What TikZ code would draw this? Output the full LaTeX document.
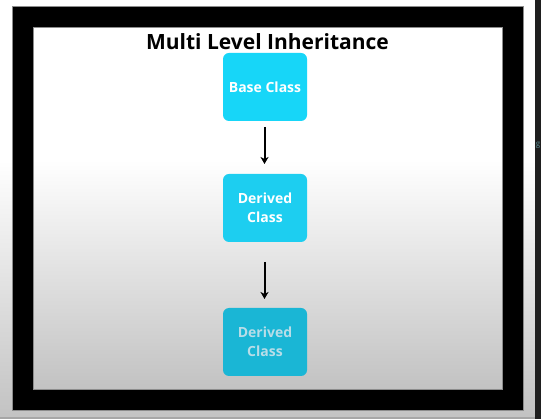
\documentclass[tikz,border=0pt]{standalone}
\usepackage{fontspec}
\setmainfont{Open Sans}
\usetikzlibrary{arrows.meta}
\definecolor{boxA}{HTML}{17D6F8}
\definecolor{boxB}{HTML}{1DCEF0}
\definecolor{boxC}{HTML}{1AB6D5}
\definecolor{txtC}{HTML}{B8DDE8}
\definecolor{bgbot}{HTML}{C2C2C2}
\definecolor{gteal}{HTML}{5E8E94}
\tikzset{
  classbox/.style={rounded corners=6pt, minimum width=84pt, minimum height=68pt,
    inner sep=0pt, align=center, font=\bfseries\fontsize{14}{19.5}\selectfont, text=white},
  inh/.style={-{Stealth[length=7pt,width=8pt,inset=2pt]}, line width=2pt, black},
}
\begin{document}
\begin{tikzpicture}[x=1pt,y=-1pt]
\useasboundingbox (0,0) rectangle (541,419);
% screen background
\fill[white] (0,0) rectangle (541,419);
\shade[top color=white, bottom color=bgbot] (0,160) rectangle (541,419);
% right dark strip
\fill[black!88] (535,0) rectangle (541,419);
\node[text=gteal, font=\fontsize{8}{8}\selectfont, inner sep=0pt] (g) at (538,145) {g};
\fill[black!35] (0,417) rectangle (535,419);
% black frame
\fill[black, draw=black!45, line width=0.5pt] (12.7,6) rectangle (523,410);
% inner slide
\fill[white] (33,27.5) rectangle (502,389);
\shade[top color=white, bottom color=bgbot] (33,160) rectangle (502,389);
\draw[black!45, line width=0.5pt] (33,27.5) rectangle (502,389);
% title
\node[font=\bfseries\fontsize{21}{24}\selectfont, text=black] (title) at (267.5,41.5) {Multi Level Inheritance};
% boxes
\node[classbox, fill=boxA] (base) at (265,87) {Base Class};
\node[classbox, fill=boxB] (d1) at (265,208) {Derived\\Class};
\node[classbox, fill=boxC, text=txtC] (d2) at (265,342) {Derived\\Class};
% arrows
\coordinate (a1s) at (264.5,127);
\coordinate (a1e) at (264.5,164);
\coordinate (a2s) at (264.5,262);
\coordinate (a2e) at (264.5,299);
\draw[inh] (a1s) -- (a1e);
\draw[inh] (a2s) -- (a2e);
\end{tikzpicture}
\end{document}
